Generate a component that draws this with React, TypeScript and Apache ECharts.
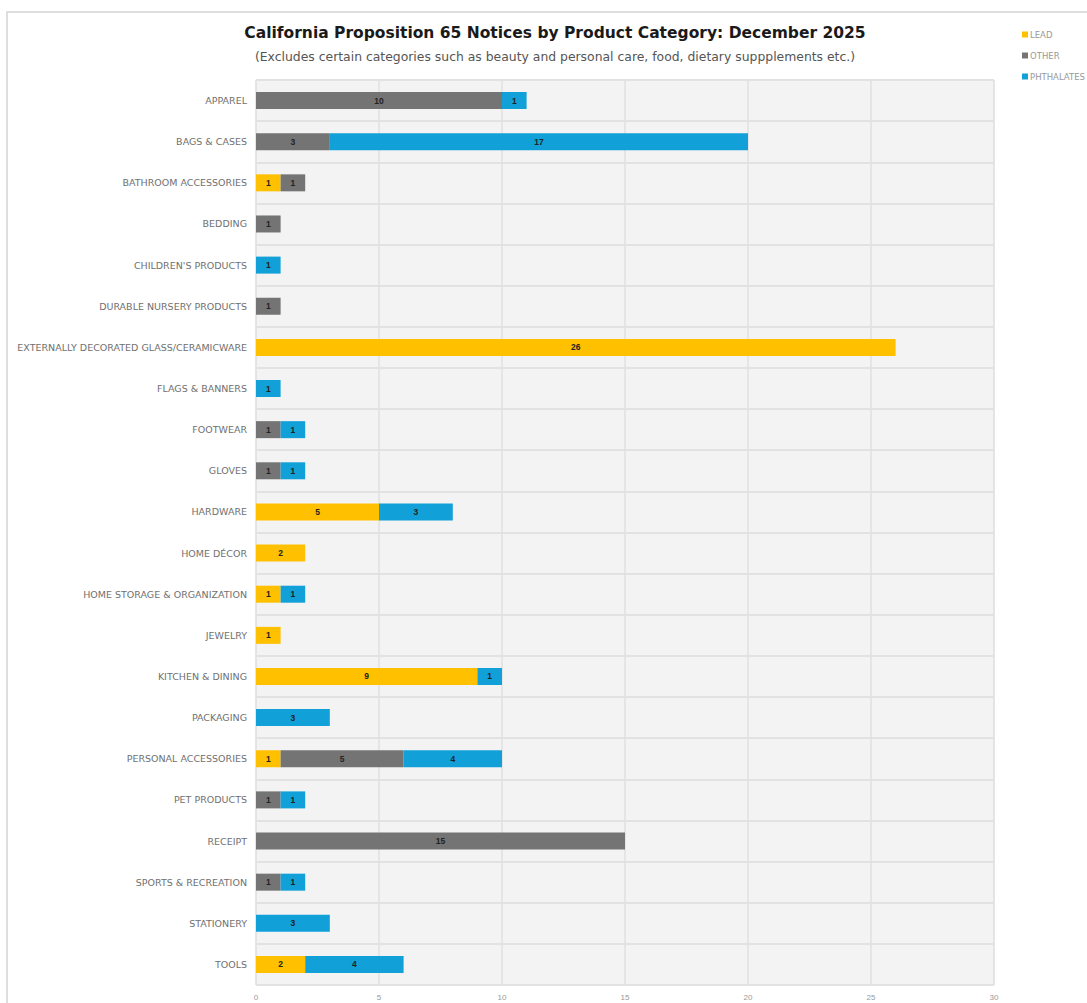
import React, { useEffect, useRef } from "react";
import * as echarts from "echarts";

const categories = [
  "APPAREL",
  "BAGS & CASES",
  "BATHROOM ACCESSORIES",
  "BEDDING",
  "CHILDREN'S PRODUCTS",
  "DURABLE NURSERY PRODUCTS",
  "EXTERNALLY DECORATED GLASS/CERAMICWARE",
  "FLAGS & BANNERS",
  "FOOTWEAR",
  "GLOVES",
  "HARDWARE",
  "HOME DÉCOR",
  "HOME STORAGE & ORGANIZATION",
  "JEWELRY",
  "KITCHEN & DINING",
  "PACKAGING",
  "PERSONAL ACCESSORIES",
  "PET PRODUCTS",
  "RECEIPT",
  "SPORTS & RECREATION",
  "STATIONERY",
  "TOOLS",
];

const lead = [null, null, 1, null, null, null, 26, null, null, null, 5, 2, 1, 1, 9, null, 1, null, null, null, null, 2];
const other = [10, 3, 1, 1, null, 1, null, null, 1, 1, null, null, null, null, null, null, 5, 1, 15, 1, null, null];
const phthalates = [1, 17, null, null, 1, null, null, 1, 1, 1, 3, null, 1, null, 1, 3, 4, 1, null, 1, 3, 4];

const xTicks = [0, 5, 10, 15, 20, 25, 30];

const FONT = "'Liberation Sans', Arial, sans-serif";
const WIDE = "'DejaVu Sans', Verdana, sans-serif";

export default function App() {
  const ref = useRef<HTMLDivElement>(null);

  useEffect(() => {
    if (!ref.current) return;
    const chart = echarts.init(ref.current, null, { renderer: "svg" });
    const label = {
      show: true,
      position: "inside",
      fontSize: 8.5,
      fontWeight: "bold",
      color: "#222",
      fontFamily: FONT,
    };
    const mk = (name: string, data: (number | null)[], color: string) => ({
      name,
      type: "bar",
      stack: "total",
      data,
      barWidth: 17,
      itemStyle: { color },
      label,
    });
    chart.setOption({
      animation: false,
      backgroundColor: "#ffffff",
      textStyle: { fontFamily: FONT },
      graphic: [
        {
          type: "rect",
          shape: { x: 7, y: 12, width: 1200, height: 1100 },
          style: { fill: "none", stroke: "#dedede", lineWidth: 2 },
          silent: true,
          z: -10,
        },
        {
          type: "text",
          x: 555,
          y: 33,
          style: {
            text: "California Proposition 65 Notices by Product Category: December 2025",
            fontSize: 15.5,
            fontWeight: "bold",
            fill: "#1a1a1a",
            fontFamily: WIDE,
            align: "center",
            verticalAlign: "middle",
          },
        },
        {
          type: "text",
          x: 555,
          y: 56,
          style: {
            text: "(Excludes certain categories such as beauty and personal care, food, dietary suppplements etc.)",
            fontSize: 12.4,
            fill: "#555",
            fontFamily: WIDE,
            align: "center",
            verticalAlign: "middle",
          },
        },
      ],
      legend: {
        orient: "vertical",
        left: 1017,
        top: 25,
        itemWidth: 6,
        itemHeight: 6,
        itemGap: 12,
        icon: "rect",
        textStyle: { fontSize: 8.5, color: "#999", fontFamily: WIDE, padding: [0, 0, 0, -3] },
        data: ["LEAD", "OTHER", "PHTHALATES"],
      },
      grid: {
        left: 256,
        right: 93,
        top: 80,
        bottom: 18,
        show: true,
        backgroundColor: "#f3f3f3",
        borderColor: "#e3e3e3",
        borderWidth: 1,
      },
      xAxis: {
        type: "value",
        min: 0,
        max: 30,
        interval: 5,
        axisLine: { show: false },
        axisTick: { show: false },
        axisLabel: {
          fontSize: 8,
          color: "#999",
          margin: 8,
          formatter: (v: number) => (xTicks.includes(v) ? String(v) : ""),
        },
        splitLine: { show: true, lineStyle: { color: "#e0e0e0", width: 1.5 } },
      },
      yAxis: {
        type: "category",
        inverse: true,
        data: categories,
        axisLine: { show: false },
        axisTick: { show: false },
        axisLabel: { fontSize: 9.5, color: "#707070", margin: 9, fontFamily: WIDE },
        splitLine: { show: true, lineStyle: { color: "#e2e2e2", width: 2 } },
      },
      series: [
        mk("LEAD", lead, "#ffc000"),
        mk("OTHER", other, "#747474"),
        mk("PHTHALATES", phthalates, "#12a0d8"),
      ],
    });
    return () => chart.dispose();
  }, []);

  return (
    <div
      ref={ref}
      style={{ position: "fixed", left: 0, top: 0, width: 1087, height: 1003 }}
    />
  );
}
